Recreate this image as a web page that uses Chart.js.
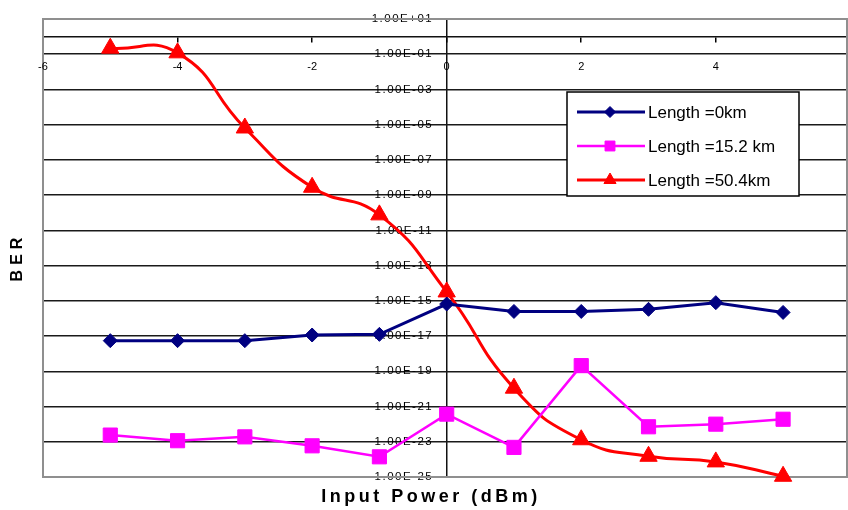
<!DOCTYPE html>
<html>
<head>
<meta charset="utf-8">
<title>BER vs Input Power</title>
<script src="https://cdn.jsdelivr.net/npm/chart.js"></script>
<style>
  html, body { margin: 0; padding: 0; background: #fff; }
  #wrap { position: relative; width: 848px; height: 510px; }
</style>
</head>
<body>
<div id="wrap"><canvas id="berChart" width="848" height="510"></canvas></div>
<script>
// x values (dBm) and BER
const powerIn = [-5, -4, -3, -2, -1, 0, 1, 2, 3, 4, 5];
const ber0km = [5.5e-18, 5.5e-18, 5.5e-18, 1.15e-17, 1.25e-17, 6.6e-16, 2.5e-16, 2.5e-16, 3.3e-16, 7.9e-16, 2.2e-16];
const ber15km = [2.4e-23, 1.15e-23, 1.9e-23, 5.9e-24, 1.4e-24, 3.7e-22, 4.8e-24, 2.1e-19, 7.1e-23, 1.0e-22, 1.9e-22];
const ber50km = [2.2e-1, 1.2e-1, 6.5e-6, 2.8e-9, 7.6e-11, 3.2e-15, 1.1e-20, 1.3e-23, 1.5e-24, 7.2e-25, 1.1e-25];
const seriesNames = ['Length =0km', 'Length =15.2 km', 'Length =50.4km'];

// ticks
const xTicks = [-6, -4, -2, 0, 2, 4];
const yTicks = [1e-25, 1e-23, 1e-21, 1e-19, 1e-17, 1e-15, 1e-13, 1e-11, 1e-9, 1e-7, 1e-5, 1e-3, 1e-1, 1e1];
const yTickLabels = ['1.00E-25', '1.00E-23', '1.00E-21', '1.00E-19', '1.00E-17', '1.00E-15', '1.00E-13',
                     '1.00E-11', '1.00E-09', '1.00E-07', '1.00E-05', '1.00E-03', '1.00E-01', '1.00E+01'];
const xTitle = 'Input Power (dBm)';
const yTitle = 'BER';

const FONT = '"Liberation Sans", Arial, sans-serif';
Chart.defaults.font.family = FONT;
Chart.defaults.color = '#000';

const toPoints = arr => arr.map((v, i) => ({ x: powerIn[i], y: v }));

// marker sizes used in the boxed legend
const legendRadius = [5.5, 7, 7];

// extra drawing: frame, axis titles, boxed legend
const berExtras = {
    id: 'berExtras',
    beforeDraw(chart) {
        // y tick labels in the picture are widely spaced
        chart.ctx.letterSpacing = '1.5px';
    },
    beforeDatasetsDraw(chart) {
        const { ctx, chartArea: a } = chart;
        ctx.letterSpacing = '0px';
        ctx.save();
        ctx.strokeStyle = '#8f8f8f';
        ctx.lineWidth = 2;
        ctx.strokeRect(a.left, a.top, a.right - a.left, a.bottom - a.top);
        ctx.restore();
    },
    afterDraw(chart) {
        const ctx = chart.ctx;
        ctx.save();
        ctx.fillStyle = '#000';
        ctx.textAlign = 'center';
        ctx.textBaseline = 'middle';

        // axis titles
        ctx.font = 'bold 18px ' + FONT;
        ctx.letterSpacing = '3.5px';
        ctx.fillText(xTitle, 431, 497);

        ctx.save();
        ctx.translate(18, 257);
        ctx.rotate(-Math.PI / 2);
        ctx.font = 'bold 16px ' + FONT;
        ctx.letterSpacing = '5px';
        ctx.fillText(yTitle, 0, 0);
        ctx.restore();

        // legend box
        const box = { x: 567, y: 92, w: 232, h: 104 };
        ctx.fillStyle = '#fff';
        ctx.fillRect(box.x, box.y, box.w, box.h);
        ctx.strokeStyle = '#000';
        ctx.lineWidth = 1.5;
        ctx.strokeRect(box.x, box.y, box.w, box.h);

        ctx.letterSpacing = '0px';
        ctx.font = '17px ' + FONT;
        ctx.textAlign = 'left';
        chart.data.datasets.forEach((ds, i) => {
            const y = box.y + 20 + i * 34;
            ctx.strokeStyle = ds.borderColor;
            ctx.lineWidth = ds.borderWidth;
            ctx.beginPath();
            ctx.moveTo(577, y);
            ctx.lineTo(645, y);
            ctx.stroke();

            ctx.fillStyle = ds.backgroundColor;
            ctx.strokeStyle = ds.borderColor;
            ctx.lineWidth = 1;
            Chart.helpers.drawPoint(ctx, {
                pointStyle: ds.pointStyle,
                rotation: 0,
                radius: legendRadius[i],
                borderWidth: 1
            }, 610, y);

            ctx.fillStyle = '#000';
            ctx.fillText(ds.label, 648, y + 1);
        });
        ctx.restore();
        ctx.letterSpacing = '0px';
    }
};

const ctx = document.getElementById('berChart').getContext('2d');
const berChart = new Chart(ctx, {
    type: 'line',
    data: {
        datasets: [{
            label: seriesNames[0],
            data: toPoints(ber0km),
            borderColor: '#000080',
            backgroundColor: '#000080',
            borderWidth: 3,
            pointStyle: 'rectRot',
            pointRadius: 7,
            pointBorderWidth: 1,
            tension: 0,
            clip: false
        }, {
            label: seriesNames[1],
            data: toPoints(ber15km),
            borderColor: '#ff00ff',
            backgroundColor: '#ff00ff',
            borderWidth: 2.5,
            pointStyle: 'rect',
            pointRadius: 10,
            pointBorderWidth: 1,
            tension: 0,
            clip: false
        }, {
            label: seriesNames[2],
            data: toPoints(ber50km),
            borderColor: '#ff0000',
            backgroundColor: '#ff0000',
            borderWidth: 3,
            pointStyle: 'triangle',
            pointRadius: 10,
            pointBorderWidth: 1,
            tension: 0.5,
            clip: false
        }]
    },
    options: {
        responsive: false,
        animation: false,
        layout: { autoPadding: false, padding: { left: 43, top: 19, right: 1, bottom: 33 } },
        plugins: {
            legend: { display: false },
            tooltip: { enabled: false }
        },
        scales: {
            x: {
                type: 'linear',
                min: -6,
                max: 5.95,
                position: { y: 1 },
                afterBuildTicks: s => { s.ticks = xTicks.map(v => ({ value: v })); },
                ticks: {
                    font: { size: 11 },
                    color: '#000',
                    padding: 0,
                    z: 1,
                    autoSkip: false,
                    maxRotation: 0,
                    callback: v => String(v)
                },
                grid: {
                    color: c => (c.tick && c.tick.value === 0) ? '#111' : 'rgba(0,0,0,0)',
                    lineWidth: 1.5,
                    tickColor: '#000',
                    tickLength: 24,
                    tickBorderDash: [5, 60]
                },
                border: { display: true, color: '#111', width: 1.5 }
            },
            y: {
                type: 'logarithmic',
                min: 1e-25,
                max: 1e1,
                position: { x: -0.2 },
                afterBuildTicks: s => { s.ticks = yTicks.map(v => ({ value: v })); },
                ticks: {
                    font: { size: 11.5 },
                    color: '#000',
                    autoSkip: false,
                    callback: v => yTickLabels[yTicks.indexOf(v)]
                },
                grid: {
                    color: c => (c.tick && (c.tick.value === 1e1 || c.tick.value === 1e-25)) ? '#8f8f8f' : '#1a1a1a',
                    lineWidth: 1.5,
                    drawTicks: false
                },
                border: { display: false }
            }
        }
    },
    plugins: [berExtras]
});
</script>
</body>
</html>
